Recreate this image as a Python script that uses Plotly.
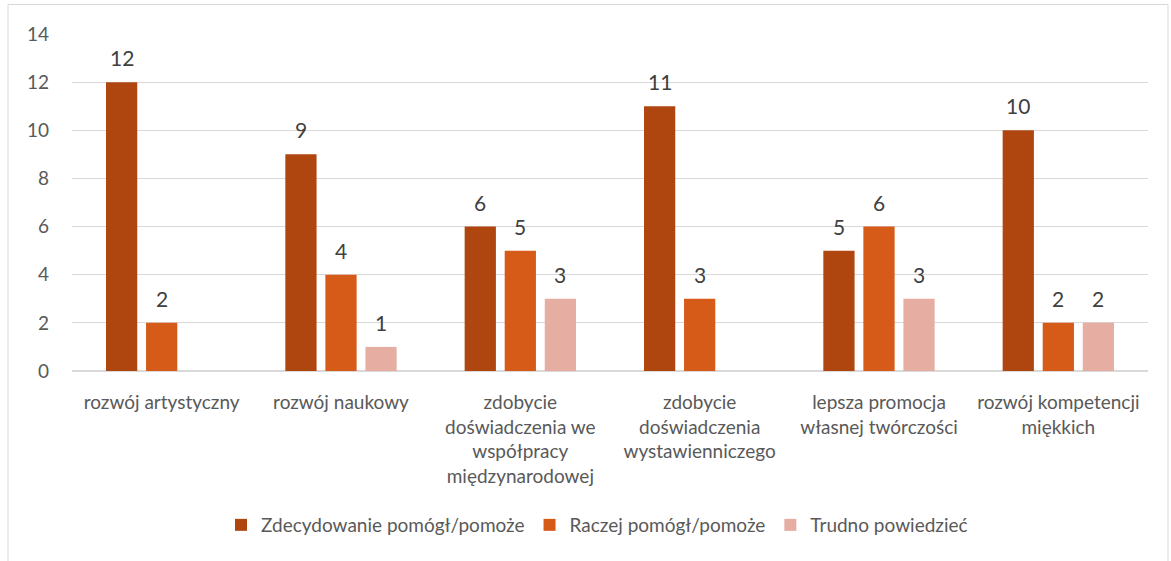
import plotly.graph_objects as go

categories = [
    "rozwój artystyczny",
    "rozwój naukowy",
    "zdobycie<br>doświadczenia we<br>współpracy<br>międzynarodowej",
    "zdobycie<br>doświadczenia<br>wystawienniczego",
    "lepsza promocja<br>własnej twórczości",
    "rozwój kompetencji<br>miękkich",
]
series_names = ["Zdecydowanie pomógł/pomoże", "Raczej pomógł/pomoże", "Trudno powiedzieć"]
zdecydowanie = [12, 9, 6, 11, 5, 10]
raczej = [2, 4, 5, 3, 6, 2]
trudno = [None, 1, 3, None, 3, 2]
colors = ["#B0460F", "#D65A18", "#E6ADA2"]

W, H = 1171, 561
L, R, T, B = 72, 23, 34, 190
pw, ph = W - L - R, H - T - B
BARGAP, GROUPGAP = 0.33, 0.22
FONT = "Lato"

all_series = [zdecydowanie, raczej, trudno]
fig = go.Figure()
for name, vals, col in zip(series_names, all_series, colors):
    fig.add_trace(go.Bar(
        x=categories, y=vals, name=name, marker_color=col,
        marker_line_width=0,
    ))

slot = pw / len(categories) * (1 - BARGAP) / len(all_series)
annotations = []
for si, vals in enumerate(all_series):
    for cat, v in zip(categories, vals):
        if v is None:
            continue
        annotations.append(dict(
            x=cat, y=v, xref="x", yref="y", text=str(v), showarrow=False,
            xanchor="center", yanchor="bottom",
            xshift=(si - 1) * slot, yshift=10,
            font=dict(family=FONT, size=21, color="#404040"),
        ))

fig.update_layout(
    width=W, height=H,
    margin=dict(l=L, r=R, t=T, b=B),
    paper_bgcolor="white", plot_bgcolor="white",
    barmode="group", bargap=BARGAP, bargroupgap=GROUPGAP,
    font=dict(family=FONT, size=19, color="#595959"),
    xaxis=dict(showgrid=False, showline=False, ticks="", ticklabelstandoff=18,
               tickfont=dict(size=19)),
    yaxis=dict(range=[0, 14], dtick=2, showgrid=True, gridcolor="#D9D9D9", gridwidth=1,
               zeroline=True, zerolinecolor="#D9D9D9", zerolinewidth=1.5,
               ticks="", ticklabelstandoff=22, tickfont=dict(size=19)),
    legend=dict(orientation="h", x=(597 - L) / pw, xanchor="center",
                y=(H - B - 525) / ph, yanchor="middle",
                font=dict(size=19, color="#595959"), itemwidth=30),
    showlegend=True,
    annotations=annotations,
)
fig.add_shape(type="rect", xref="paper", yref="paper",
              x0=(8 - L) / pw, x1=(1168 - L) / pw,
              y0=(H - B - 600) / ph, y1=(H - B - 4.5) / ph,
              line=dict(color="#D9D9D9", width=1), fillcolor="rgba(0,0,0,0)", layer="below")

fig.write_html("out.html", config={"displayModeBar": False},
               post_script="document.body.style.margin='0px';document.body.style.overflow='hidden';")
